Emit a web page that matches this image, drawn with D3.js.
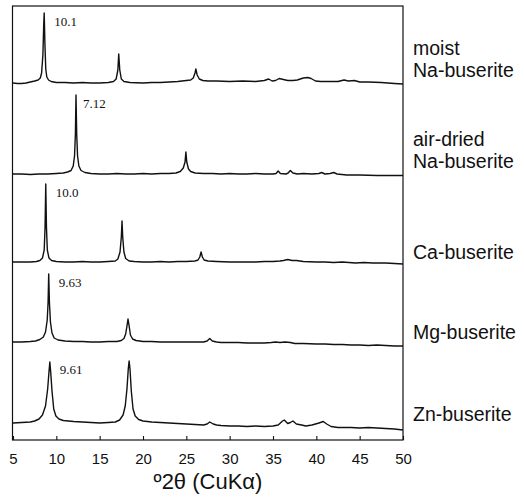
<!DOCTYPE html>
<html>
<head>
<meta charset="utf-8">
<script src="https://cdn.jsdelivr.net/npm/d3@7/dist/d3.min.js"></script>
<style>
  html, body { margin: 0; padding: 0; background: #fff; }
  svg { display: block; }
</style>
</head>
<body>
<svg id="chart" width="524" height="497"></svg>
<script>
// ---------- DATA (2θ in degrees, intensity in arbitrary units above each trace's baseline) ----------
const xTicks = [5, 10, 15, 20, 25, 30, 35, 40, 45, 50];
const sampleNames = [["moist", "Na-buserite"], ["air-dried", "Na-buserite"], ["Ca-buserite"], ["Mg-buserite"], ["Zn-buserite"]];
const peakLabels = ["10.1", "7.12", "10.0", "9.63", "9.61"];
const peakLabelAt = [8.6, 12.27, 8.78, 9.12, 9.25]; // 2θ of the labelled basal reflection
const offsets = [357, 266, 178, 98, 16];           // vertical stacking offset of each pattern

const moistNa = [[5,0],[5.5,-0.5],[6,-0.5],[6.5,0],[7,1],[7.5,2],[7.9,3],[8.15,5],[8.3,10],[8.45,28],[8.55,60],[8.6,70],[8.68,40],[8.78,14],[8.9,6],[9.1,3],[9.4,1.5],[10,0.5],[11,0.5],[12,0],[13,0.5],[14,0],[15,0],[16,0.5],[16.6,1.5],[16.9,4],[17.1,13],[17.2,29],[17.32,13],[17.5,4],[17.8,1.5],[18.5,0.5],[20,0],[21,0.5],[22,0.5],[23,1],[24,1.5],[25,2.5],[25.5,3],[25.8,5],[26.0,10],[26.1,14],[26.25,8],[26.5,4],[26.9,2.5],[27.5,2],[28.5,2],[30,1.5],[31.5,2],[33,1.5],[34,2.5],[34.5,4],[34.9,2],[35.3,2.5],[35.7,4.5],[36.2,3.5],[36.7,2.5],[37.3,2.5],[37.8,3],[38.5,5],[39,5.5],[39.4,4.5],[39.9,2],[40.5,1.5],[41.5,1.5],[42.5,1.5],[43.2,3],[43.7,2],[44.4,2.5],[45,1],[46,1],[47.5,0.5],[49,-0.5],[50,-1]];

const airDriedNa = [[5,0],[6,0],[7,-0.5],[8,0],[9,0],[10,0.5],[10.8,1],[11.3,2],[11.7,3.5],[11.95,8],[12.1,18],[12.2,40],[12.27,79],[12.35,40],[12.45,18],[12.6,8],[12.85,3.5],[13.3,1.5],[14,0.5],[15,0],[16,0],[17,0.5],[18,0],[19,0],[20,0.5],[21,0],[22,0.5],[23,0.5],[23.8,1],[24.3,2.5],[24.65,6],[24.85,12],[24.95,22],[25.05,12],[25.25,5],[25.5,2.5],[26,1],[27,0.5],[28,0.5],[29,0],[30,0.5],[31,0],[32,0],[33,0.5],[34,0],[35,0],[35.35,0.5],[35.6,3],[35.85,0.5],[36.5,0],[36.75,1],[37.0,3.5],[37.3,1],[37.8,0],[38.5,0.5],[39.5,0],[40.3,0.5],[40.6,1.5],[41,0],[41.6,0.5],[42,1.5],[42.4,0],[43.5,-1],[45,-1],[47,-1.5],[50,-1.5]];

const caBuserite = [[5,0],[6,0],[7,0],[7.7,0.5],[8.1,1.5],[8.4,4],[8.6,12],[8.7,35],[8.78,78],[8.86,35],[8.96,12],[9.15,4],[9.45,1.5],[10,0.5],[11,0],[12,0],[13,0.5],[14,0],[15,0],[16,0.5],[16.8,1],[17.1,3],[17.35,10],[17.5,25],[17.58,41],[17.66,25],[17.8,10],[18.0,3.5],[18.4,1],[19,0.5],[20,0],[21,0],[22,0.5],[23,0],[24,0.5],[25,0.5],[26,1],[26.35,2],[26.55,5],[26.7,10],[26.85,5],[27.05,2],[27.5,1],[28.5,0.5],[30,0],[31,0],[32,0],[33,0],[34,0.5],[35,0.5],[35.8,1],[36.2,1.5],[36.7,2.5],[37.2,1.5],[37.7,1.5],[38.5,0.5],[40,0],[41,0],[42,-0.5],[43,0],[44.5,-1],[45.5,-0.5],[46.5,-1],[48,-1],[49,-1.5],[50,-2]];

const mgBuserite = [[5,0],[6,0],[7,0.5],[7.6,1],[8.1,2.5],[8.5,5],[8.75,10],[8.95,22],[9.05,40],[9.12,68],[9.2,40],[9.32,20],[9.5,9],[9.75,4],[10.2,2],[11,1],[12,0.5],[13,0.5],[14,0],[15,0],[16,0.5],[17,0.5],[17.5,1.5],[17.8,3.5],[18.0,8],[18.15,16],[18.27,23],[18.4,16],[18.55,7],[18.8,3],[19.2,1.5],[20,0.5],[21,0.5],[22,0],[23,0],[24,0],[25,0],[26,0],[27,0],[27.4,1],[27.7,3.5],[28.0,1],[28.5,0],[29,-0.5],[30,-0.5],[31,-0.5],[32,-1],[33,-1],[34,-1],[34.8,-0.5],[35.3,0],[35.8,-0.5],[36.4,0],[37,-0.5],[37.5,-1.5],[38.5,-1.5],[40,-2],[41,-2],[42,-2.5],[43,-2.5],[44,-3],[45,-3],[46,-3.5],[47,-3],[48,-3.5],[49,-4],[50,-4]];

const znBuserite = [[5,1],[6,1.5],[7,2],[7.5,3],[8,5],[8.4,9],[8.75,18],[9.0,35],[9.15,52],[9.25,62],[9.35,52],[9.5,33],[9.7,15],[9.95,8],[10.3,5],[10.8,3.5],[12,2.5],[13,2],[14,1.5],[15,1],[16,1.5],[16.8,2],[17.3,4],[17.7,9],[17.95,18],[18.15,35],[18.3,55],[18.4,63],[18.5,55],[18.65,33],[18.85,15],[19.1,8],[19.5,4.5],[20,3],[21,2],[22,1.5],[23,1],[24,0.5],[25,0],[26,-0.5],[27,-1],[27.4,0],[27.7,2],[28.1,0],[28.5,-1],[29,-1.5],[30,-2],[31,-2],[32,-2.5],[33,-2],[34,-2.5],[35,-2],[35.6,-1],[36.1,3],[36.3,4],[36.7,0.5],[37.0,1.5],[37.3,3],[37.7,0],[38.3,-1],[38.8,-2],[39.5,-1],[40.3,1],[40.8,2.5],[41.2,0],[41.7,-2.5],[42.5,-3.5],[44,-3.5],[45,-4],[46,-3.5],[47,-4],[48,-4.5],[49,-5],[50,-6]];

const patterns = [moistNa, airDriedNa, caBuserite, mgBuserite, znBuserite];

// ---------- DRAWING ----------
const svg = d3.select("#chart");
const plot = { left: 13, right: 403, top: 6, bottom: 440 };

const x = d3.scaleLinear().domain([5, 50]).range([plot.left, plot.right]);
const y = d3.scaleLinear().domain([0, 434]).range([plot.bottom, plot.top]);

// frame
svg.append("rect")
  .attr("x", plot.left - 0.5).attr("y", plot.top)
  .attr("width", plot.right - plot.left + 0.5).attr("height", plot.bottom - plot.top)
  .attr("fill", "none").attr("stroke", "#111").attr("stroke-width", 1.2);

// traces
const line = d3.line()
  .x(d => x(d[0]))
  .y(d => d[1]);

patterns.forEach((pts, i) => {
  const off = offsets[i];
  svg.append("path")
    .datum(pts.map(p => [p[0], y(off + p[1])]))
    .attr("d", line)
    .attr("fill", "none")
    .attr("stroke", "#111")
    .attr("stroke-width", 1.4)
    .attr("stroke-linejoin", "round");
});

// peak d-spacing labels
const peakTop = patterns.map((pts, i) => d3.max(pts, p => p[1]) + offsets[i]);
svg.selectAll("text.peak")
  .data(peakLabels)
  .join("text")
  .attr("class", "peak")
  .attr("x", (d, i) => x(peakLabelAt[i]) + (i === 1 ? 7 : 10))
  .attr("y", (d, i) => y(peakTop[i]) + 13)
  .attr("font-family", "'Liberation Serif', 'Times New Roman', serif")
  .attr("font-size", 13)
  .attr("fill", "#111")
  .text(d => d);

// sample names on the right, aligned to each trace baseline
sampleNames.forEach((lines, i) => {
  const base = y(offsets[i]);
  const t = svg.append("text")
    .attr("font-family", "'Liberation Sans', Arial, sans-serif")
    .attr("font-size", 19.5)
    .attr("fill", "#111");
  const n = lines.length;
  lines.forEach((s, k) => {
    t.append("tspan")
      .attr("x", plot.right + 10)
      .attr("y", base - 3 - (n - 1 - k) * 22 - (n > 1 ? 3 : 0))
      .text(s);
  });
});

// bottom axis
const xAxis = d3.axisBottom(x)
  .tickValues(xTicks)
  .tickFormat(d3.format("d"))
  .tickSizeInner(-4)
  .tickSizeOuter(0)
  .tickPadding(13);

const gx = svg.append("g")
  .attr("transform", `translate(0,${plot.bottom})`)
  .call(xAxis);
gx.select(".domain").remove();
gx.selectAll("line").attr("stroke", "#111").attr("stroke-width", 1.1);
gx.selectAll("text")
  .attr("font-family", "'Liberation Sans', Arial, sans-serif")
  .attr("font-size", 15)
  .attr("fill", "#111");

// axis title
svg.append("text")
  .attr("x", (x(5) + x(50)) / 2)
  .attr("y", 489)
  .attr("text-anchor", "middle")
  .attr("font-family", "'Liberation Sans', Arial, sans-serif")
  .attr("font-size", 22)
  .attr("fill", "#111")
  .text("º2θ (CuKα)");
</script>
</body>
</html>
